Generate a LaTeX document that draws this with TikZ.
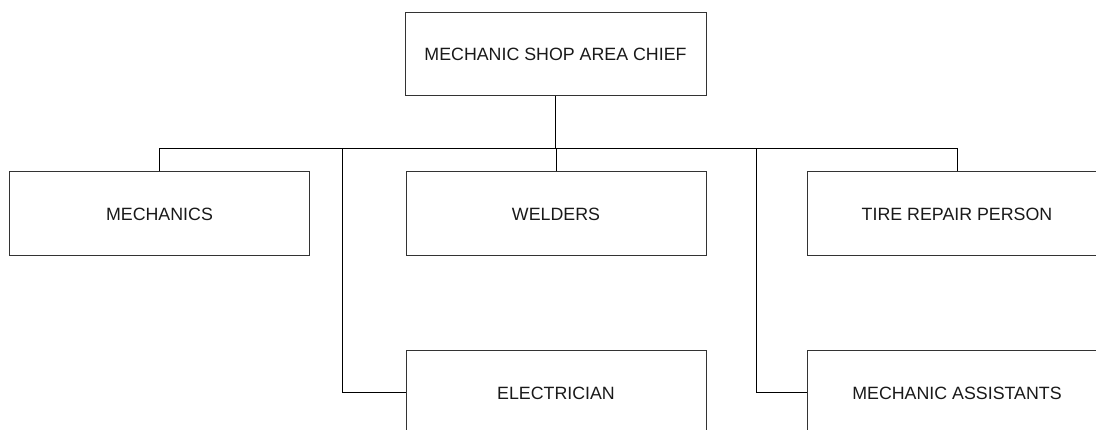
\documentclass[tikz,border=0pt]{standalone}
\usepackage{fontspec}
\setmainfont{Liberation Sans}
\begin{document}
\begin{tikzpicture}[x=1pt,y=-1pt,
  box/.style={draw=black!80, line width=1pt, minimum width=300pt, minimum height=84pt, inner sep=0pt, font=\fontsize{17.8}{20}\selectfont, text=black!90},
  conn/.style={draw=black, line width=1pt}]
\useasboundingbox (0,0) rectangle (1096,430);
\clip (0,0) rectangle (1096,430);
\node[box, minimum width=301pt, minimum height=83pt] (chief) at (555.5,54.5) {MECHANIC SHOP AREA CHIEF};
\node[box] (mech) at (159.5,214) {MECHANICS};
\node[box] (weld) at (556,214) {WELDERS};
\node[box] (tire) at (957,214) {TIRE REPAIR PERSON};
\node[box] (elec) at (556,393) {ELECTRICIAN};
\node[box] (asst) at (957,393) {MECHANIC ASSISTANTS};
\coordinate (bus) at (0,149);
\coordinate (ej) at (342,149);
\coordinate (aj) at (756,149);
\draw[conn] (chief.south) -- (chief.south |- bus);
\draw[conn] (mech.north) -- (mech.north |- bus) -| (tire.north);
\draw[conn] (weld.north) -- (weld.north |- bus);
\draw[conn] (elec.west) -| (ej);
\draw[conn] (asst.west) -| (aj);
\end{tikzpicture}
\end{document}
